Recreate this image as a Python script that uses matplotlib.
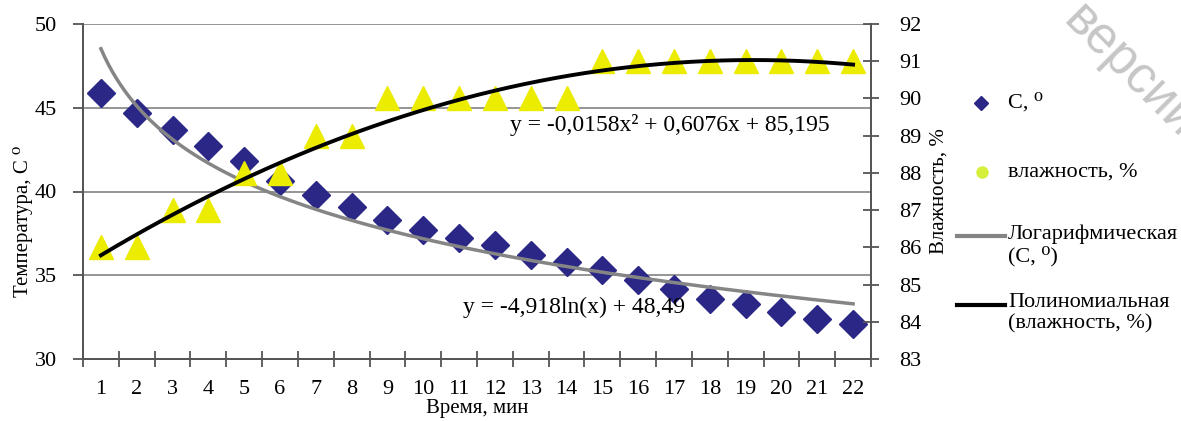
import matplotlib.pyplot as plt
import numpy as np
from matplotlib.lines import Line2D

plt.rcParams['font.family'] = ['Liberation Serif', 'DejaVu Serif']

# data
minutes = list(range(1, 23))
temperature = [45.9, 44.7, 43.7, 42.7, 41.8, 40.6, 39.8, 39.1, 38.3, 37.7, 37.2,
               36.8, 36.2, 35.8, 35.3, 34.7, 34.2, 33.6, 33.3, 32.8, 32.4, 32.1]
humidity = [86, 86, 87, 87, 88, 88, 89, 89, 90, 90, 90,
            90, 90, 90, 91, 91, 91, 91, 91, 91, 91, 91]

temp_eq = "y = -4,918ln(x) + 48,49"
hum_eq = "y = -0,0158x² + 0,6076x + 85,195"
legend_labels = ['С, ⁰', 'влажность, %', 'Логарифмическая\n(С, ⁰)',
                 'Полиномиальная\n(влажность, %)']

x = np.array(minutes)

# trend lines (as in Excel)
log_fit = np.polyfit(np.log(x), temperature, 1)
poly_fit = np.polyfit(x, humidity, 2)
xs = np.linspace(1, 22, 200)

W, H = 1181, 421
fig = plt.figure(figsize=(W / 100, H / 100), dpi=100)
ax = fig.add_axes([83 / W, 1 - 359 / H, 788 / W, 335 / H])
ax2 = ax.twinx()

navy = '#2b2787'
yellow = '#ecec00'

ax.plot(x, temperature, linestyle='none', marker='D', markersize=14,
        color=navy, zorder=3)
ax2.plot(x, humidity, linestyle='none', marker='^', markersize=17,
         color=yellow, zorder=3)
ax.plot(xs, log_fit[0] * np.log(xs) + log_fit[1], color='#858585', lw=2.5, zorder=4)
ax2.plot(xs, np.polyval(poly_fit, xs), color='black', lw=2.8, zorder=4)

ax.set_xlim(0.5, 22.5)
ax.set_ylim(30, 50)
ax2.set_ylim(83, 92)
ax.set_yticks([30, 35, 40, 45, 50])
ax2.set_yticks(range(83, 93))
ax.set_xticks(x)
ax.set_xticks(np.arange(0.5, 23, 1), minor=True)
ax.tick_params(axis='x', which='major', length=0, labelsize=16, pad=15)
ax.tick_params(axis='x', which='minor', length=12, direction='inout',
               width=1.3, color='#555555')
ax.tick_params(axis='y', length=7, direction='out', width=1.3, color='#555555',
               labelsize=16, pad=12)
ax2.tick_params(axis='y', length=12, direction='inout', width=1.3, color='#555555',
                labelsize=16, pad=14)
for a in (ax, ax2):
    for side in ('left', 'right', 'bottom'):
        a.spines[side].set_color('#555555')
        a.spines[side].set_linewidth(1.3)
    a.spines['top'].set_visible(False)

for v in [35, 40, 45, 50]:
    ax.axhline(v, color='#8c8c8c', lw=1.3, zorder=1)

ax.set_ylabel('Температура, С ⁰', fontsize=15)
ax.yaxis.set_label_coords(-0.063, 0.41)
ax.set_xlabel('Время, мин', fontsize=15, labelpad=0)
ax2.set_ylabel('Влажность, %', fontsize=15, labelpad=6)

ax2.text(12.42, 89.3, hum_eq, fontsize=17, va='center', zorder=5)
ax.text(11.1, 33.1, temp_eq, fontsize=17, va='center', zorder=5)

# legend drawn by hand, in pixels of the figure
def fx(px):
    return px / W


def fy(py):
    return 1 - py / H


fig.add_artist(Line2D([fx(981)], [fy(103)], linestyle='none', marker='D',
                      markersize=7, color=navy))
fig.add_artist(Line2D([fx(982)], [fy(172)], linestyle='none', marker='o',
                      markersize=8, color='#d6ef3a'))
fig.add_artist(Line2D([fx(957), fx(1005)], [fy(236), fy(236)], color='#858585', lw=3))
fig.add_artist(Line2D([fx(957), fx(1005)], [fy(305), fy(305)], color='black', lw=3))
fig.text(fx(1008), fy(103), legend_labels[0], fontsize=16, va='center')
fig.text(fx(1008), fy(172), legend_labels[1], fontsize=16, va='center')
fig.text(fx(1008), fy(224), legend_labels[2], fontsize=16, va='top', linespacing=1.15)
fig.text(fx(1008), fy(293), legend_labels[3], fontsize=16, va='top', linespacing=1.15)

# watermark in the top right corner
fig.text(fx(1130), fy(72), 'версии', fontsize=37, color='#c6c6c6', rotation=-45,
         family='Liberation Sans', ha='center', va='center', rotation_mode='anchor')

fig.savefig('out.png', dpi=100)
